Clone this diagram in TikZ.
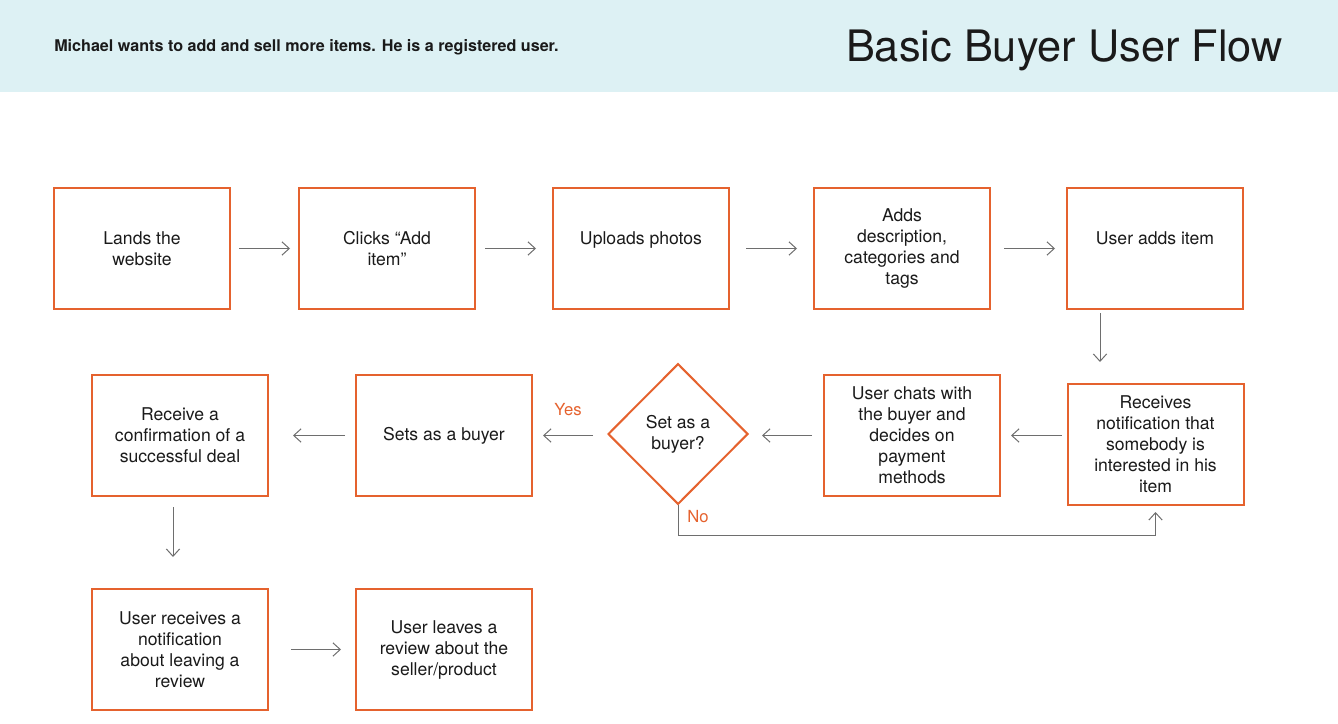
\documentclass[tikz,border=0pt]{standalone}
\usepackage{fontspec}
\setmainfont{TeX Gyre Heros}
\usetikzlibrary{arrows.meta,shapes.geometric,positioning}
\definecolor{head}{HTML}{DDF1F4}
\definecolor{edge}{HTML}{E5622E}
\definecolor{wire}{HTML}{6E6E6E}
\definecolor{ink}{HTML}{1A1A1A}
\tikzset{
  box/.style={draw=edge, line width=1.5pt, minimum width=132pt, minimum height=90.75pt,
    inner sep=0pt, align=center, text=ink, font=\fontsize{13.2}{15.75}\selectfont},
  decide/.style={diamond, draw=edge, line width=1.5pt, minimum width=105pt, minimum height=105.5pt,
    inner sep=0pt, align=center, text=ink, font=\fontsize{13.2}{15.75}\selectfont},
  arr/.style={draw=wire, line width=0.75pt, -{Straight Barb[length=5.5pt,width=10pt]}},
  lab/.style={text=edge, font=\fontsize{12.5}{14}\selectfont, inner sep=0pt}
}
\begin{document}
\begin{tikzpicture}[x=0.75pt,y=-0.75pt]
  \useasboundingbox (0,0) rectangle (1338,724);
  \fill[head] (0,0) rectangle (1338,92);
  \node[anchor=west, text=ink, font=\bfseries\fontsize{12.1}{13}\selectfont, inner sep=0pt] (story) at (54,47)
    {Michael wants to add and sell more items. He is a registered user.};
  \node[anchor=east, text=ink, font=\fontsize{32.5}{36}\selectfont, inner sep=0pt] (title) at (1283,50)
    {Basic Buyer User Flow};

  \node[box] (land)   at (142,248.5)  {Lands the\\website};
  \node[box] (click)  at (387,248.5)  {Clicks ``Add\\item''};
  \node[box] (upload) at (641,248.5)  {Uploads photos\\\mbox{}};
  \node[box] (desc)   at (902,248.5)  {Adds\\description,\\categories and\\tags};
  \node[box] (added)  at (1155,248.5) {User adds item\\\mbox{}};

  \node[box] (notif)  at (1155.5,444.5) {Receives\\notification that\\somebody is\\interested in his\\item};
  \node[box] (chat)   at (912,435.5)  {User chats with\\the buyer and\\decides on\\payment\\methods};
  \node[decide] (ask) at (678,434)    {Set as a\\buyer?};
  \node[box] (setb)   at (444,435.5)  {Sets as a buyer};
  \node[box] (deal)   at (180,435.5)  {Receive a\\confirmation of a\\successful deal};

  \node[box] (remind) at (180,649.5)  {User receives a\\notification\\about leaving a\\review};
  \node[box] (review) at (444,649.5)  {User leaves a\\review about the\\seller/product};

  \coordinate (drop1) at (1100,312);
  \coordinate (drop2) at (173,506);

  \draw[arr, shorten <=6pt, shorten >=6pt] (land) -- (click);
  \draw[arr, shorten <=6.75pt, shorten >=12pt] (click) -- (upload);
  \draw[arr, shorten <=12pt, shorten >=12pt] (upload) -- (desc);
  \draw[arr, shorten <=9.75pt, shorten >=8.25pt] (desc) -- (added);
  \draw[arr, shorten <=2.25pt, shorten >=15.75pt] (added.south -| drop1) -- (notif.north -| drop1);
  \draw[arr, shorten <=3.75pt, shorten >=7.5pt] (notif.west |- chat) -- (chat.east);
  \draw[arr, shorten <=8.25pt, shorten >=9.75pt] (chat) -- (chat -| ask.east);
  \draw[arr, shorten <=10.5pt, shorten >=7.5pt] (setb -| ask.west) -- (setb);
  \draw[arr, shorten <=7.5pt, shorten >=18pt] (setb) -- (deal);
  \draw[arr, shorten <=7.5pt, shorten >=23.25pt] (deal.south -| drop2) -- (remind.north -| drop2);
  \draw[arr, shorten <=16.5pt, shorten >=10.5pt] (remind) -- (review);
  \draw[arr, shorten >=4.5pt] (ask.south) -- ++(0,30) -| (notif.south);

  \node[lab] (yes) at (568,410) {Yes};
  \node[lab] (no)  at (698,517) {No};
\end{tikzpicture}
\end{document}
